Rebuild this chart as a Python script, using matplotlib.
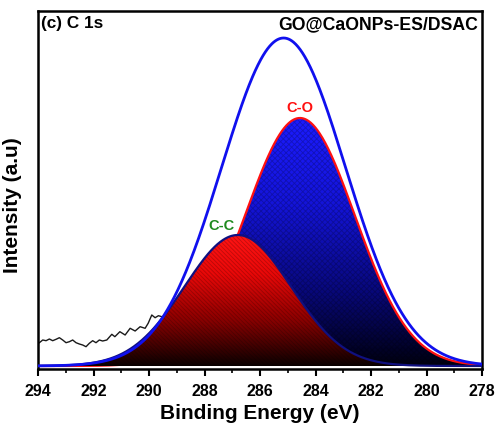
import numpy as np
import matplotlib
matplotlib.use("Agg")
import matplotlib.pyplot as plt
from matplotlib.colors import LinearSegmentedColormap
from matplotlib.patches import PathPatch

plt.rcParams['font.family'] = ['Liberation Sans', 'DejaVu Sans']
plt.rcParams['hatch.linewidth'] = 0.6

# ---- data ----
# fitted components: name, center (eV), height (a.u.), sigma (eV)
peak_names = ["C-C", "C-O"]
peak_centers = [286.8, 284.56]
peak_heights = [131, 248]
peak_sigmas = [1.92, 1.98]
# envelope (total fit)
env_center = 285.15
env_height = 328
env_sigma = 2.23
# raw spectrum (visible part)
raw_energy = [293.95, 293.83, 293.71, 293.59, 293.47, 293.35, 293.23, 293.11, 292.99,
              292.87, 292.75, 292.63, 292.51, 292.39, 292.27, 292.15, 292.03, 291.91,
              291.79, 291.67, 291.52, 291.34, 291.23, 291.05, 290.86, 290.68, 290.50,
              290.32, 290.14, 290.03, 289.90, 289.78, 289.66, 289.54]
raw_intensity = [23.3, 26.0, 25.3, 27.0, 25.3, 26.7, 28.3, 26.0, 23.3,
                 24.3, 26.0, 23.3, 22.0, 21.0, 19.3, 22.7, 25.3, 23.3,
                 26.0, 25.0, 26.0, 31.7, 29.3, 34.3, 31.0, 37.7, 35.0,
                 39.3, 37.7, 42.7, 51.0, 48.3, 50.3, 49.3]
x_ticks = [294, 292, 290, 288, 286, 284, 282, 280, 278]


def gauss(x, c, h, s):
    return h * np.exp(-(x - c) ** 2 / (2 * s ** 2))


fig = plt.figure(figsize=(4.97, 4.33), dpi=100)
ax = fig.add_axes([38 / 497, 1 - 369 / 433, 444 / 497, 358 / 433])
ax.set_xlim(294, 278)
ax.set_ylim(-3, 355)

x = np.linspace(278, 294, 800)

# raw data
ax.plot(raw_energy, raw_intensity, color='#1a1a1a', lw=1.0, zorder=1)


def gradient_fill(xv, yv, colors, hatch, hatch_col, edge_col, z):
    poly = ax.fill_between(xv, 0, yv, facecolor='none', edgecolor='none', zorder=z)
    path = poly.get_paths()[0]
    patch = PathPatch(path, transform=ax.transData, facecolor='none', edgecolor='none')
    ax.add_patch(patch)
    cmap = LinearSegmentedColormap.from_list('g', colors)
    ymax = yv.max()
    grad = np.linspace(0, 1, 256).reshape(-1, 1)
    im = ax.imshow(grad, cmap=cmap, aspect='auto', origin='lower',
                   extent=[294, 278, 0, ymax], zorder=z, interpolation='bilinear')
    im.set_clip_path(patch)
    ax.fill_between(xv, 0, yv, facecolor='none', edgecolor=hatch_col, hatch=hatch,
                    lw=0, zorder=z + 0.1)
    ax.plot(xv, yv, color=edge_col, lw=1.6, zorder=z + 0.2)


y_cc = gauss(x, peak_centers[0], peak_heights[0], peak_sigmas[0])
y_co = gauss(x, peak_centers[1], peak_heights[1], peak_sigmas[1])
y_env = gauss(x, env_center, env_height, env_sigma)

gradient_fill(x, y_co, [(0, '#000010'), (0.3, '#08087a'), (0.65, '#1414d8'), (1, '#1c1cff')],
              'xxxxxx', (0, 0, 0, 0.22), '#ff1010', 2)
gradient_fill(x, y_cc, [(0, '#0a0000'), (0.35, '#8a0000'), (0.7, '#e80808'), (1, '#ff1414')],
              '\\\\\\\\\\\\\\\\', (0, 0, 0, 0.22), '#101080', 3)

ax.plot(x, y_env, color='#1010ee', lw=2.0, zorder=5)

# labels
ax.text(peak_centers[1], peak_heights[1] + 3, peak_names[1], color='#ff1010',
        fontsize=10.5, fontweight='bold', ha='center', va='bottom', zorder=6)
ax.text(peak_centers[0] + 0.57, peak_heights[0] + 2, peak_names[0], color='#1f8a1f',
        fontsize=10.5, fontweight='bold', ha='center', va='bottom', zorder=6)

ax.text(0.006, 0.985, '(c) C 1s', transform=ax.transAxes, fontsize=12.4,
        fontweight='bold', ha='left', va='top')
ax.text(0.992, 0.985, 'GO@CaONPs-ES/DSAC', transform=ax.transAxes, fontsize=12.7,
        fontweight='bold', ha='right', va='top')

ax.set_xticks(x_ticks)
ax.set_xticklabels([str(t) for t in x_ticks], fontsize=11.5, fontweight='bold')
ax.set_xticks(np.arange(279, 294, 2), minor=True)
ax.set_yticks([])
ax.tick_params(axis='x', which='major', direction='out', length=5, width=1.5, pad=5.5)
ax.tick_params(axis='x', which='minor', direction='out', length=3, width=1.2)
for s in ax.spines.values():
    s.set_linewidth(1.8)

ax.set_xlabel('Binding Energy (eV)', fontsize=15, fontweight='bold', labelpad=4)
ax.set_ylabel('Intensity (a.u)', fontsize=15, fontweight='bold')
ax.yaxis.set_label_coords(-0.036, 0.458)

fig.savefig('out.png', dpi=100)
